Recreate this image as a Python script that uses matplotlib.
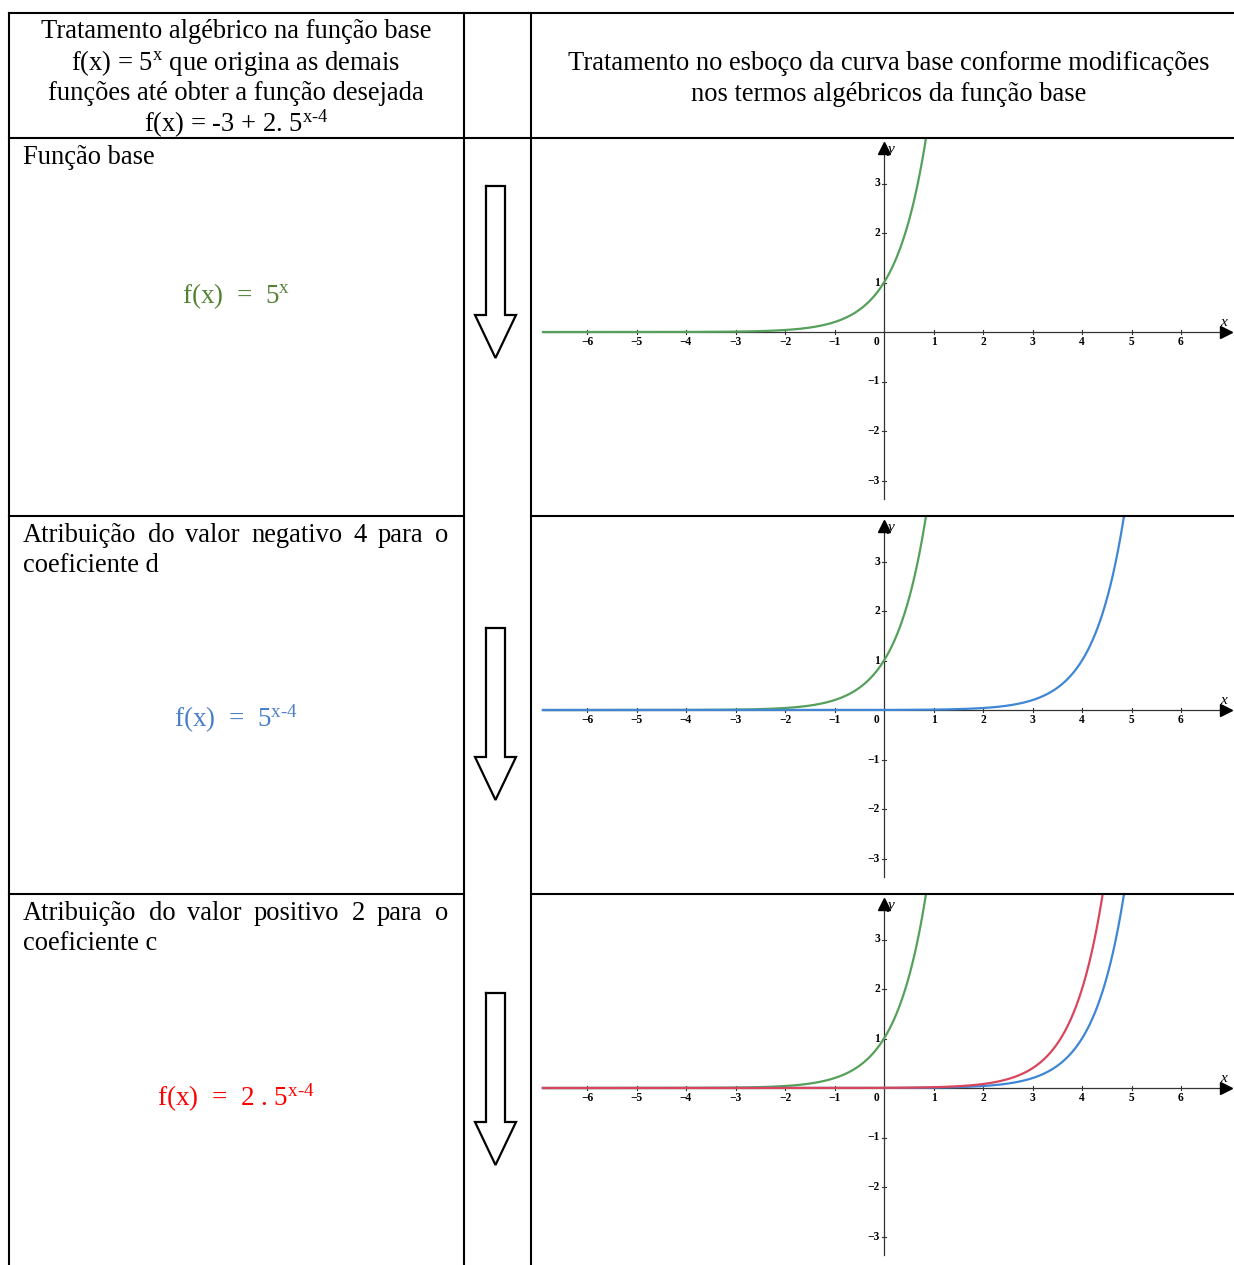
import matplotlib.pyplot as plt
import numpy as np

plt.rcParams['font.family'] = ['Liberation Serif', 'DejaVu Serif']
plt.rcParams['mathtext.fontset'] = 'custom'
plt.rcParams['mathtext.rm'] = 'Liberation Serif'
plt.rcParams['mathtext.it'] = 'Liberation Serif:italic'

# =========================
# data
# =========================
header_left = ["Tratamento algébrico na função base",
               "f(x) = 5$^\\mathregular{x}$ que origina as demais",
               "funções até obter a função desejada",
               "f(x) = -3 + 2. 5$^{\\mathregular{x\\text{-}4}}$"]
header_right = ["Tratamento no esboço da curva base conforme modificações",
                "nos termos algébricos da função base"]

row_titles = [["Função base"],
              ["Atribuição do valor negativo 4 para o", "coeficiente d"],
              ["Atribuição do valor positivo 2 para o", "coeficiente c"]]
row_formulas = ["f(x)  =  5$^\\mathregular{x}$",
                "f(x)  =  5$^{\\mathregular{x\\text{-}4}}$",
                "f(x)  =  2 . 5$^{\\mathregular{x\\text{-}4}}$"]
formula_colors = ["#548235", "#4a7fc9", "#ff0000"]

# curves f(x) = c * 5^(x - d)
curve_c = [1, 1, 2]
curve_d = [0, 4, 4]
curve_colors = ["#55a05a", "#3f86d6", "#d9465c"]
# which curves show up in each graph
graph_curves = [[0], [0, 1], [0, 1, 2]]

ticks_x = [-6, -5, -4, -3, -2, -1, 1, 2, 3, 4, 5, 6]
ticks_y = [-3, -2, -1, 1, 2, 3]

# =========================
# layout (pixels)
# =========================
W, H = 1234, 1265
fig = plt.figure(figsize=(W / 100, H / 100), dpi=100)

col_l, col_m, col_r = 9, 464, 531
row_y = [13, 138, 516, 894, 1265]
axis_y = [332, 710, 1088]
axis_x = 884
unit = 49.5

bg = fig.add_axes([0, 0, 1, 1])
bg.set_xlim(0, W)
bg.set_ylim(H, 0)
bg.axis("off")

fs = 19.1
for i, line in enumerate(header_left):
    bg.text(236, 32 + i * 30.7, line, ha="center", va="center", fontsize=fs)
for i, line in enumerate(header_right):
    bg.text(889, 64 + i * 30.7, line, ha="center", va="center", fontsize=fs)

fig.canvas.draw()
renderer = fig.canvas.get_renderer()


def justify(y, text, x0, x1):
    words = text.split()
    objs = [bg.text(0, y, w, ha="left", va="center", fontsize=fs) for w in words]
    widths = [o.get_window_extent(renderer).width for o in objs]
    gap = (x1 - x0 - sum(widths)) / (len(words) - 1)
    x = x0
    for o, w in zip(objs, widths):
        o.set_x(x)
        x += w + gap


for r, title in enumerate(row_titles):
    top = row_y[r + 1]
    for k, line in enumerate(title):
        y = top + 19 + k * 31
        if len(title) > 1 and k == 0:
            justify(y, line, 23, 448)
        else:
            bg.text(23, y, line, ha="left", va="center", fontsize=fs)

formula_y = [296, 719, 1098]
for r in range(3):
    bg.text(236, formula_y[r], row_formulas[r], ha="center", va="center",
            fontsize=19.5, color=formula_colors[r])

# hollow down arrows in the middle column
arrow_top = [186, 628, 993]
for t in arrow_top:
    xs = [486, 505, 505, 516, 495.5, 475, 486, 486]
    ys = [t, t, t + 129, t + 129, t + 172, t + 129, t + 129, t]
    bg.plot(xs, ys, color="black", lw=1.6, solid_joinstyle="miter")

# =========================
# graphs
# =========================
for g in range(3):
    top, bot = row_y[g + 1], row_y[g + 2]
    y0 = axis_y[g]
    ax = fig.add_axes([col_r / W, 1 - bot / H, (W - col_r) / W, (bot - top) / H])
    ax.set_xlim((col_r - axis_x) / unit, (W - axis_x) / unit)
    ax.set_ylim((y0 - bot) / unit, (y0 - top) / unit)
    ax.axis("off")
    ax.patch.set_alpha(0)

    xmin, xmax = -6.89, 6.9
    ax.plot([xmin, xmax], [0, 0], color="#333333", lw=0.9, zorder=2)
    ax.plot([xmax], [0], marker=">", ms=8, color="black", zorder=2)
    ax.text(6.8, 0.06, "x", fontsize=11, style="italic", ha="left", va="bottom")
    ybot = -3.37
    ax.plot([0, 0], [ybot, 3.75], color="#333333", lw=0.9, zorder=2)
    ax.plot([0], [3.72], marker="^", ms=8, color="black", zorder=2)
    ax.text(0.06, 3.68, "y", fontsize=11, style="italic", ha="left", va="center")

    for t in ticks_x:
        ax.plot([t, t], [-0.05, 0.05], color="#333333", lw=0.8)
        lab = str(t).replace("-", "\u2212")
        ax.text(t, -0.21, lab, fontsize=8.3, fontweight="bold", ha="center", va="center")
    ax.text(-0.15, -0.21, "0", fontsize=8.3, fontweight="bold", ha="center", va="center")
    for t in ticks_y:
        ax.plot([-0.05, 0.05], [t, t], color="#333333", lw=0.8)
        lab = str(t).replace("-", "\u2212")
        ax.text(-0.08, t, lab, fontsize=8.3, fontweight="bold", ha="right", va="center")

    xs = np.linspace(xmin, 6.9, 800)
    for k in graph_curves[g]:
        ys = curve_c[k] * 5.0 ** (xs - curve_d[k])
        ax.plot(xs, ys, color=curve_colors[k], lw=1.6, zorder=3 + k)

# table lines on top
ov = fig.add_axes([0, 0, 1, 1])
ov.set_xlim(0, W)
ov.set_ylim(H, 0)
ov.axis("off")
ov.patch.set_alpha(0)
lw = 1.5
ov.plot([col_l, W], [row_y[0], row_y[0]], color="black", lw=lw)
ov.plot([col_l, W], [row_y[1], row_y[1]], color="black", lw=lw)
for y in row_y[2:4]:
    ov.plot([col_l, col_m], [y, y], color="black", lw=lw)
    ov.plot([col_r, W], [y, y], color="black", lw=lw)
for x in (col_l, col_m, col_r):
    ov.plot([x, x], [row_y[0], H], color="black", lw=lw)

fig.savefig("out.png", dpi=100)
